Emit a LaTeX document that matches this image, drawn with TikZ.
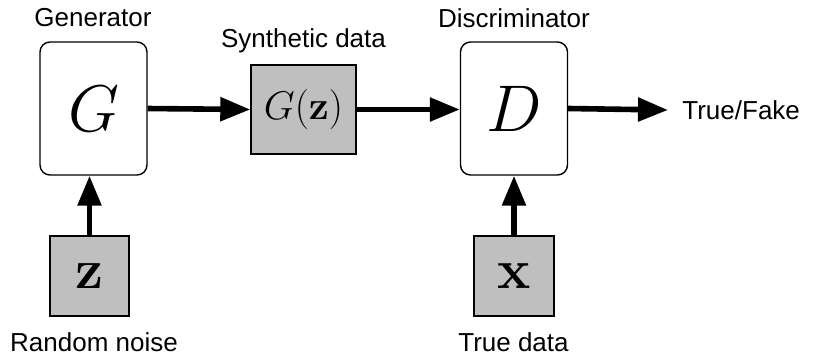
\RequirePackage{fix-cm}
\documentclass[tikz,border=0pt]{standalone}
\usepackage[no-math]{fontspec}
\setmainfont{Liberation Sans}
\usetikzlibrary{arrows.meta}

\begin{document}
\begin{tikzpicture}[x=0.5pt,y=-0.5pt,
  netbox/.style={draw,line width=0.7pt,fill=white,rounded corners=5pt,
    minimum width=53.5pt,minimum height=66.5pt,font=\fontsize{33}{36}\selectfont},
  databox/.style={draw,line width=0.7pt,fill=black!25,inner sep=0pt},
  caption/.style={font=\fontsize{13}{15}\selectfont},
  flow/.style={-{Triangle[length=15pt,width=11.5pt]},line width=2.8pt}]
\useasboundingbox (0,0) rectangle (814,355);
% networks
\node[netbox] (gen) at (93.5,108.5) {$G$};
\node[netbox] (dis) at (514,108.5) {$D$};
% data
\node[databox,minimum width=52.5pt,minimum height=44.5pt,font=\fontsize{20}{24}\selectfont] (fake) at (303.5,109.5) {$G(\mathbf{z})$};
\node[databox,minimum width=39.5pt,minimum height=40pt,font=\fontsize{28}{32}\selectfont] (noise) at (89.5,276) {$\mathbf{z}$};
\node[databox,minimum width=40pt,minimum height=40pt,font=\fontsize{28}{32}\selectfont] (real) at (514,276) {$\mathbf{x}$};
% captions
\node[caption] (genlbl) at (93,18) {Generator};
\node[caption] (fakelbl) at (303.5,41) {Synthetic data};
\node[caption] (dislbl) at (514,18) {Discriminator};
\node[caption] (noiselbl) at (94,342) {Random noise};
\node[caption] (reallbl) at (513.5,342) {True data};
\node[caption,anchor=west,inner sep=0pt] (out) at (682,110) {True/Fake};
\coordinate (outtip) at (668,110);
% arrows
\draw[flow] (gen.east) -- (fake.west);
\draw[flow] (fake.east) -- (fake.east -| dis.west);
\draw[flow] (dis.east) -- (outtip);
\draw[flow] (noise.north) -- (noise.north |- gen.south);
\draw[flow] (real.north) -- (real.north |- dis.south);
\end{tikzpicture}
\end{document}
